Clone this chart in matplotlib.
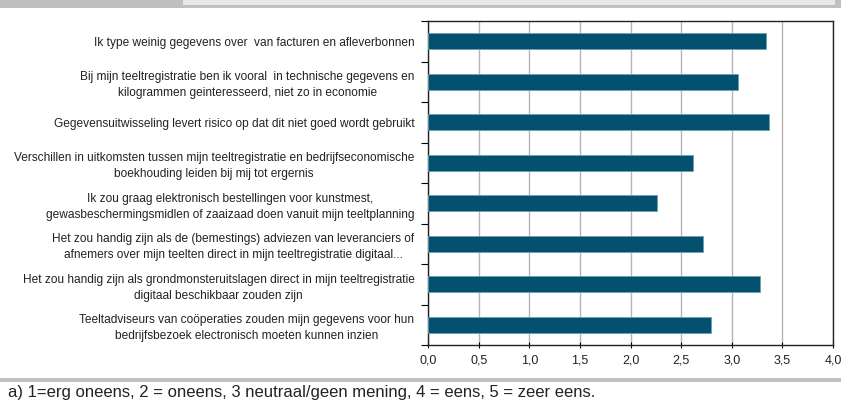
import numpy as np
import matplotlib
matplotlib.use('Agg')
import matplotlib.pyplot as plt
from matplotlib.patches import Rectangle

plt.rcParams['font.family'] = ['Liberation Sans', 'DejaVu Sans']

labels = [
    'Ik type weinig gegevens over  van facturen en afleverbonnen',
    'Bij mijn teeltregistratie ben ik vooral  in technische gegevens en\nkilogrammen geinteresseerd, niet zo in economie',
    'Gegevensuitwisseling levert risico op dat dit niet goed wordt gebruikt',
    'Verschillen in uitkomsten tussen mijn teeltregistratie en bedrijfseconomische\nboekhouding leiden bij mij tot ergernis',
    'Ik zou graag elektronisch bestellingen voor kunstmest,\ngewasbeschermingsmidlen of zaaizaad doen vanuit mijn teeltplanning',
    'Het zou handig zijn als de (bemestings) adviezen van leveranciers of\nafnemers over mijn teelten direct in mijn teeltregistratie digitaal...',
    'Het zou handig zijn als grondmonsteruitslagen direct in mijn teeltregistratie\ndigitaal beschikbaar zouden zijn',
    'Teeltadviseurs van coöperaties zouden mijn gegevens voor hun\nbedrijfsbezoek electronisch moeten kunnen inzien',
]
values = [3.34, 3.06, 3.37, 2.62, 2.26, 2.72, 3.28, 2.79]
xticks = [0.0, 0.5, 1.0, 1.5, 2.0, 2.5, 3.0, 3.5, 4.0]
xticklabels = ['0,0', '0,5', '1,0', '1,5', '2,0', '2,5', '3,0', '3,5', '4,0']
footnote = 'a) 1=erg oneens, 2 = oneens, 3 neutraal/geen mening, 4 = eens, 5 = zeer eens.'

bar_color = '#03506f'

fig = plt.figure(figsize=(8.41, 4.05), dpi=100)

# header bands
fig.patches.append(Rectangle((0, 1 - 8 / 405), 1, 8 / 405, transform=fig.transFigure,
                             facecolor='#c0c0c0', edgecolor='none'))
fig.patches.append(Rectangle((183 / 841, 1 - 5 / 405), (835 - 183) / 841, 5 / 405,
                             transform=fig.transFigure, facecolor='#e8e8e8', edgecolor='none'))
# footer separator
fig.patches.append(Rectangle((0, 1 - 382 / 405), 1, 4 / 405, transform=fig.transFigure,
                             facecolor='#c0c0c0', edgecolor='none'))

ax = fig.add_axes([428.3 / 841, 1 - 345 / 405, (833 - 428.3) / 841, 324 / 405])

y = np.arange(len(labels))
ax.barh(y, values, height=0.4, color=bar_color, edgecolor='#6f9fb3', linewidth=0.6, zorder=3)

ax.set_xlim(0, 4.0)
ax.set_ylim(len(labels) - 0.5, -0.5)
ax.set_xticks(xticks)
ax.set_xticklabels(xticklabels, fontsize=9, color='#222222')
ax.set_yticks(y)
ax.set_yticklabels(labels, fontsize=8.6, color='#222222', multialignment='center',
                   linespacing=1.45)
ax.set_yticks(np.arange(-0.5, len(labels)), minor=True)
ax.tick_params(axis='y', which='major', length=0, pad=10)
ax.tick_params(axis='y', which='minor', length=5, width=0.8, direction='out')
ax.tick_params(axis='x', which='major', length=5, width=0.8, direction='inout', pad=4)

ax.grid(axis='x', color='#b4b4b4', linewidth=1.0, zorder=0)
for s in ax.spines.values():
    s.set_linewidth(1.0)
    s.set_color('#222222')

fig.text(8 / 841, 1 - 393 / 405, footnote, fontsize=12, color='#222222', va='center', ha='left')

fig.savefig('out.png', dpi=100)
